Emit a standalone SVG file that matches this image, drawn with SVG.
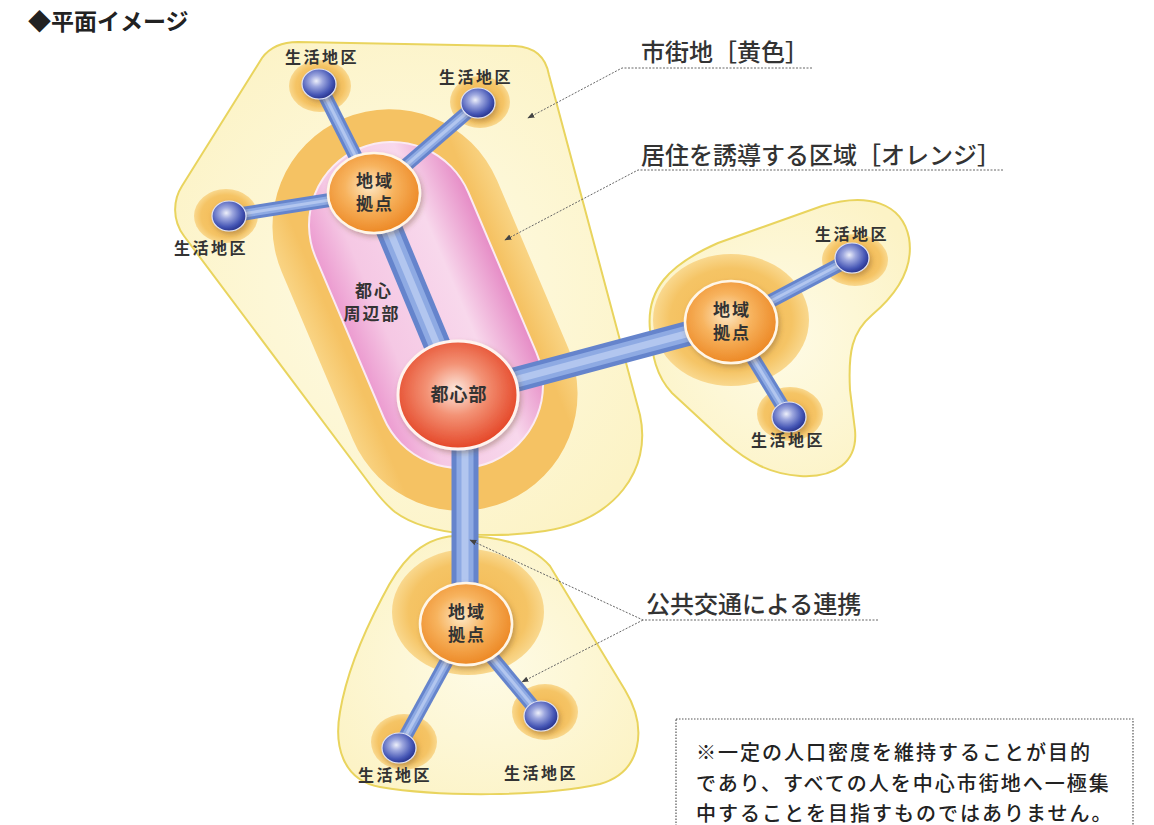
<svg xmlns="http://www.w3.org/2000/svg" width="1154" height="825" viewBox="0 0 1154 825">
<defs>
<radialGradient id="gYel" cx="50%" cy="50%" r="60%"><stop offset="0%" stop-color="#fefbe6"/><stop offset="100%" stop-color="#fcf3c6"/></radialGradient>
<radialGradient id="gHalo" cx="50%" cy="50%" r="50%"><stop offset="0%" stop-color="#f3b750"/><stop offset="78%" stop-color="#f5c465"/><stop offset="100%" stop-color="#f9d88e"/></radialGradient>
<linearGradient id="gOr" x1="0" y1="0" x2="1" y2="0"><stop offset="0%" stop-color="#f9d484"/><stop offset="12%" stop-color="#f5c263"/><stop offset="88%" stop-color="#f5c263"/><stop offset="100%" stop-color="#f9d484"/></linearGradient>
<linearGradient id="gPink" x1="0" y1="0" x2="1" y2="0"><stop offset="0%" stop-color="#ec9bd0"/><stop offset="22%" stop-color="#f5c8e4"/><stop offset="70%" stop-color="#f8d8ec"/><stop offset="100%" stop-color="#e68cc6"/></linearGradient>
<radialGradient id="gNode" cx="45%" cy="42%" r="60%"><stop offset="0%" stop-color="#fde7c4"/><stop offset="45%" stop-color="#f7b35e"/><stop offset="100%" stop-color="#ec8622"/></radialGradient>
<radialGradient id="gCore" cx="48%" cy="45%" r="60%"><stop offset="0%" stop-color="#fde9df"/><stop offset="40%" stop-color="#f39275"/><stop offset="100%" stop-color="#e2391a"/></radialGradient>
<radialGradient id="gBall" cx="42%" cy="40%" r="62%"><stop offset="0%" stop-color="#eef0fa"/><stop offset="30%" stop-color="#9ea8df"/><stop offset="75%" stop-color="#4556b5"/><stop offset="100%" stop-color="#26318a"/></radialGradient>
<filter id="sh" x="-30%" y="-30%" width="160%" height="160%"><feDropShadow dx="2" dy="3" stdDeviation="2.5" flood-color="#6b4a2a" flood-opacity="0.35"/></filter>
<marker id="ah" viewBox="0 0 10 10" refX="9" refY="5" markerWidth="7" markerHeight="7" orient="auto-start-reverse" markerUnits="userSpaceOnUse"><path d="M0,1 L10,5 L0,9 Z" fill="#444"/></marker>
<style>
.yel{fill:url(#gYel);stroke:#e9d45e;stroke-width:2}
.halo{fill:url(#gHalo)}
.tubeO{stroke:#6584cc;stroke-linecap:butt;fill:none}
.tubeI{stroke:#8eaae3;stroke-linecap:butt;fill:none}
.tubeH{stroke:#b2c6ef;stroke-linecap:butt;fill:none}
.node{fill:url(#gNode);stroke:#fff6e8;stroke-width:2.5;filter:url(#sh)}
.core{fill:url(#gCore);stroke:#fff3ee;stroke-width:3;filter:url(#sh)}
.ball{fill:url(#gBall);stroke:#dfe3f5;stroke-width:1.2;filter:url(#sh)}
.lbl{font-family:"Noto Sans CJK JP","Noto Sans CJK SC",sans-serif;font-weight:700;fill:#333;text-anchor:middle}
.sm{font-size:16px;letter-spacing:2.5px}
.nd{font-size:17px;letter-spacing:2px}
.call{font-family:"Noto Sans CJK JP",sans-serif;font-size:24px;font-weight:500;fill:#333}
.dot{stroke:#666;stroke-width:1;stroke-dasharray:2 1.5;fill:none}
.note{font-family:"Noto Sans CJK JP",sans-serif;font-size:20px;font-weight:500;fill:#222;letter-spacing:2px}
</style>
</defs>
<rect width="1154" height="825" fill="#ffffff"/>
<text x="28" y="30" font-family="Noto Sans CJK JP, sans-serif" font-size="23" font-weight="700" fill="#222">◆平面イメージ</text>

<g id="regions">
<path id="region-main" class="yel" d="M298,42 L515,46 C536,47 546,58 549,75 L640,415 C652,470 615,520 545,531 C500,538 430,538 395,512 C385,504 378,495 372,487 L184,236 C172,220 173,200 182,186 L262,58 C270,47 282,42 298,42 Z"/>
<path id="region-east" class="yel" d="M650,330 C646,290 668,265 718,243 L822,206 C868,192 902,203 909,238 C914,268 898,293 872,315 C852,332 848,352 850,390 L855,430 C858,462 835,478 800,476 C770,474 748,462 725,442 L672,393 C656,376 652,355 650,330 Z"/>
<path id="region-south" class="yel" d="M455,536 C500,535 532,546 550,566 L625,690 C648,728 642,772 600,784 C540,797 440,797 380,787 C342,780 334,745 340,712 C346,676 362,636 382,598 C398,566 418,538 455,536 Z"/>
<rect id="region-orange" x="-117" y="-208" width="234" height="416" rx="117" fill="url(#gOr)" transform="translate(425,310) rotate(-23)"/>
<rect id="region-pink" x="-83" y="-170" width="166" height="340" rx="83" fill="url(#gPink)" stroke="#fbeaf3" stroke-width="2" transform="translate(426,305) rotate(-23)"/>
</g>

<g id="halos">
<ellipse class="halo" cx="320" cy="86" rx="31" ry="26"/>
<ellipse class="halo" cx="480" cy="102" rx="30" ry="26"/>
<ellipse class="halo" cx="226" cy="216" rx="32" ry="27"/>
<ellipse class="halo" cx="731" cy="320" rx="78" ry="66"/>
<ellipse class="halo" cx="855" cy="260" rx="33" ry="26"/>
<ellipse class="halo" cx="790" cy="414" rx="33" ry="27"/>
<ellipse class="halo" cx="468" cy="612" rx="76" ry="63"/>
<ellipse class="halo" cx="404" cy="742" rx="33" ry="28"/>
<ellipse class="halo" cx="545" cy="712" rx="33" ry="28"/>
</g>

<g id="connectors">
<g class="tubeO">
<path d="M374,193 L458,395" stroke-width="27"/>
<path d="M458,395 L731,322" stroke-width="25"/>
<path d="M465,400 L465,620" stroke-width="27"/>
<path d="M374,193 L319,84" stroke-width="14"/>
<path d="M374,193 L478,103" stroke-width="14"/>
<path d="M374,193 L229,216" stroke-width="14"/>
<path d="M731,322 L852,258" stroke-width="14"/>
<path d="M731,322 L789,417" stroke-width="14"/>
<path d="M466,626 L399,748" stroke-width="14"/>
<path d="M466,626 L541,716" stroke-width="14"/>
</g>
<g class="tubeI">
<path d="M374,193 L458,395" stroke-width="17"/>
<path d="M458,395 L731,322" stroke-width="16"/>
<path d="M465,400 L465,620" stroke-width="17"/>
<path d="M374,193 L319,84" stroke-width="8"/>
<path d="M374,193 L478,103" stroke-width="8"/>
<path d="M374,193 L229,216" stroke-width="8"/>
<path d="M731,322 L852,258" stroke-width="8"/>
<path d="M731,322 L789,417" stroke-width="8"/>
<path d="M466,626 L399,748" stroke-width="8"/>
<path d="M466,626 L541,716" stroke-width="8"/>
</g>
<g class="tubeH">
<path d="M374,193 L458,395" stroke-width="7"/>
<path d="M458,395 L731,322" stroke-width="7"/>
<path d="M465,400 L465,620" stroke-width="7"/>
<path d="M374,193 L319,84" stroke-width="3"/>
<path d="M374,193 L478,103" stroke-width="3"/>
<path d="M374,193 L229,216" stroke-width="3"/>
<path d="M731,322 L852,258" stroke-width="3"/>
<path d="M731,322 L789,417" stroke-width="3"/>
<path d="M466,626 L399,748" stroke-width="3"/>
<path d="M466,626 L541,716" stroke-width="3"/>
</g>
</g>

<g id="node-s1"><ellipse class="ball" cx="319" cy="84" rx="17" ry="15"/><text class="lbl sm" x="322" y="63">生活地区</text></g>
<g id="node-s2"><ellipse class="ball" cx="478" cy="103" rx="17" ry="15"/><text class="lbl sm" x="476" y="83">生活地区</text></g>
<g id="node-s3"><ellipse class="ball" cx="229" cy="216" rx="17" ry="15"/><text class="lbl sm" x="211" y="254">生活地区</text></g>
<g id="node-s4"><ellipse class="ball" cx="852" cy="258" rx="17" ry="15"/><text class="lbl sm" x="852" y="240">生活地区</text></g>
<g id="node-s5"><ellipse class="ball" cx="789" cy="417" rx="17" ry="15"/><text class="lbl sm" x="788" y="446">生活地区</text></g>
<g id="node-s6"><ellipse class="ball" cx="399" cy="748" rx="17" ry="15"/><text class="lbl sm" x="395" y="781">生活地区</text></g>
<g id="node-s7"><ellipse class="ball" cx="541" cy="716" rx="17" ry="15"/><text class="lbl sm" x="541" y="779">生活地区</text></g>

<g id="node-hub-north"><ellipse class="node" cx="374" cy="193" rx="46" ry="40"/><text class="lbl nd" x="375" y="187">地域</text><text class="lbl nd" x="375" y="210">拠点</text></g>
<g id="node-hub-east"><ellipse class="node" cx="731" cy="322" rx="46" ry="41"/><text class="lbl nd" x="732" y="316">地域</text><text class="lbl nd" x="732" y="339">拠点</text></g>
<g id="node-hub-south"><ellipse class="node" cx="466" cy="624" rx="46" ry="41"/><text class="lbl nd" x="467" y="618">地域</text><text class="lbl nd" x="467" y="641">拠点</text></g>
<g id="node-center"><ellipse class="core" cx="458" cy="395" rx="60" ry="54"/><text class="lbl" font-size="18" letter-spacing="1" x="459" y="401">都心部</text></g>
<g id="label-periphery"><text class="lbl nd" x="374" y="297">都心</text><text class="lbl nd" x="372" y="320">周辺部</text></g>

<g id="callouts">
<text class="call" x="641" y="61">市街地［黄色］</text>
<path class="dot" d="M812,68 L622,68 L528,118" marker-end="url(#ah)"/>
<text class="call" x="641" y="164">居住を誘導する区域［オレンジ］</text>
<path class="dot" d="M1003,170 L638,170 L505,240" marker-end="url(#ah)"/>
<text class="call" x="646" y="613">公共交通による連携</text>
<path class="dot" d="M878,620 L643,620 L470,540" marker-end="url(#ah)"/>
<path class="dot" d="M643,620 L522,682" marker-end="url(#ah)"/>
</g>

<g id="note">
<rect x="676" y="719" width="457" height="120" fill="#ffffff" stroke="#555" stroke-width="1.2" stroke-dasharray="1.5 1.5"/>
<text class="note" x="696" y="760">※一定の人口密度を維持することが目的</text>
<text class="note" x="696" y="791">であり、すべての人を中心市街地へ一極集</text>
<text class="note" x="696" y="821">中することを目指すものではありません。</text>
</g>
</svg>
